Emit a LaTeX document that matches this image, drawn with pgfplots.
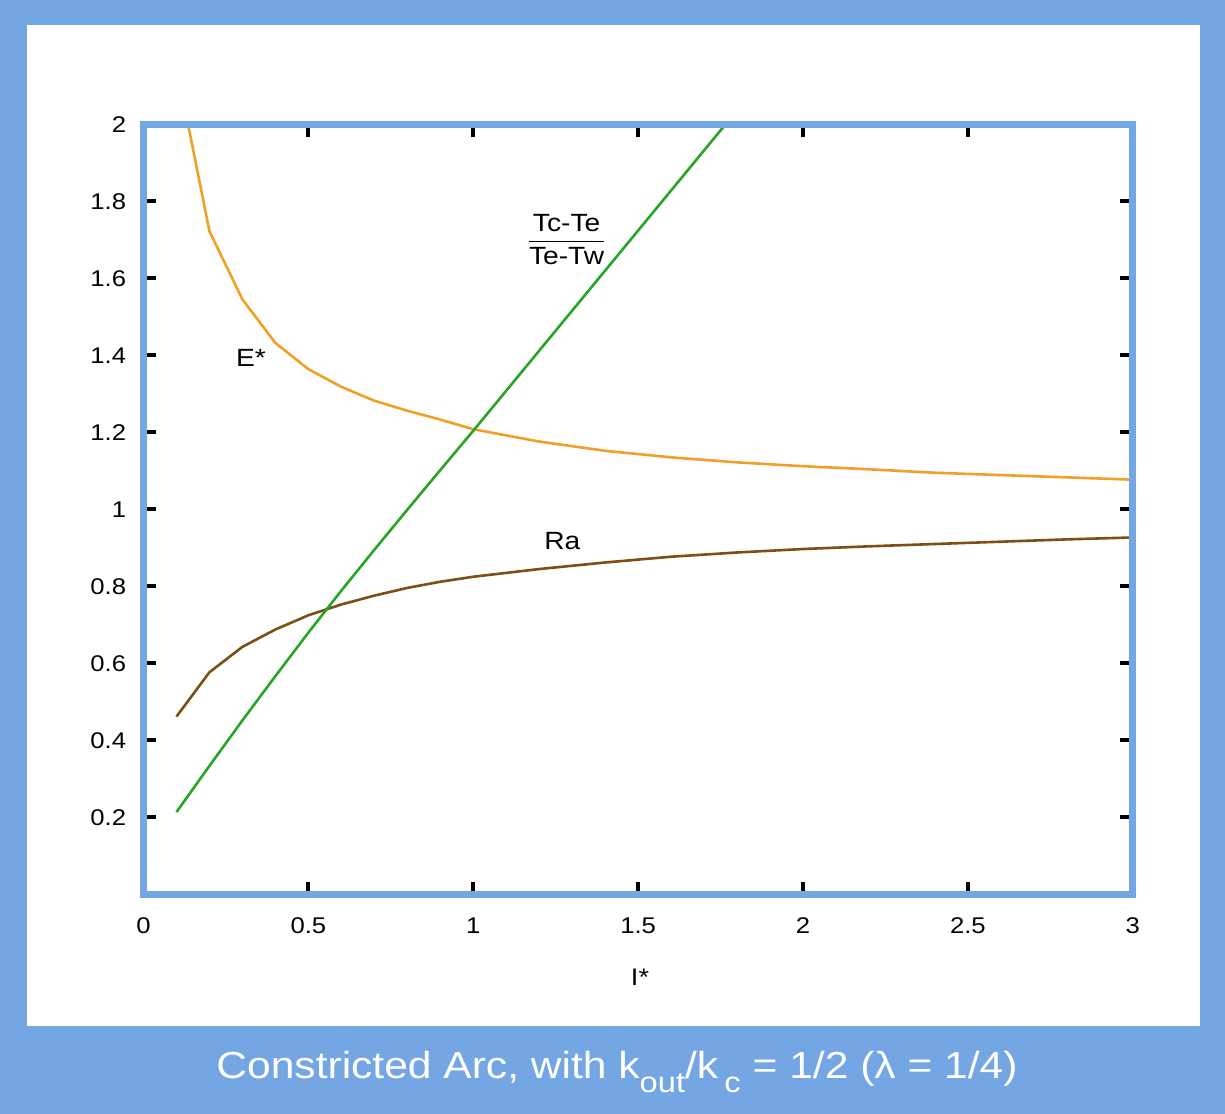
\documentclass[border=0pt]{standalone}
\usepackage{fontspec}
\setmainfont[FakeStretch=1.13]{Liberation Sans}
\usepackage{pgfplots}
\pgfplotsset{compat=1.18}
\definecolor{frameblue}{RGB}{116,166,228}
\definecolor{estar}{RGB}{240,160,40}
\definecolor{rabrown}{RGB}{125,78,22}
\definecolor{tgreen}{RGB}{40,165,40}
\begin{document}
\begin{tikzpicture}
\useasboundingbox (0,0) rectangle (612.5bp,557bp);
\fill[frameblue] (0,0) rectangle (612.5bp,557bp);
\fill[white] (13.5bp,44bp) rectangle (600bp,544.5bp);
\begin{axis}[
  at={(71.75bp,109.75bp)}, anchor=south west,
  scale only axis, width=494.65bp, height=385.15bp,
  xmin=0, xmax=3, ymin=0, ymax=2,
  xtick={0.5,1,1.5,2,2.5},
  ytick={0.2,0.4,0.6,0.8,1,1.2,1.4,1.6,1.8},
  extra x ticks={0,3},
  extra y ticks={2},
  extra tick style={major tick length=0pt},
  axis on top=true,
  axis line style={frameblue, line width=3.5bp},
  tick style={black, line width=2bp},
  major tick length=6.25bp,
  tick align=inside,
  /pgf/number format/assume math mode=true,
  ticklabel style={font=\fontsize{11.4}{12}\selectfont, black},
  xticklabel style={anchor=north, inner sep=0pt, yshift=-11.5bp},
  yticklabel style={anchor=east, inner sep=0pt, xshift=-8.5bp},
]
\addplot[estar, line width=1.3bp] coordinates {
(0.1,2.15) (0.2,1.722) (0.3,1.545) (0.4,1.432) (0.5,1.364) (0.6,1.318)
(0.7,1.282) (0.8,1.256) (0.9,1.233) (1.0,1.208) (1.2,1.176) (1.4,1.152)
(1.6,1.135) (1.8,1.122) (2.0,1.112) (2.2,1.104) (2.4,1.095) (2.6,1.089)
(2.8,1.083) (3.0,1.077)};
\addplot[rabrown, line width=1.3bp] coordinates {
(0.1,0.462) (0.2,0.577) (0.3,0.643) (0.4,0.688) (0.5,0.725) (0.6,0.753)
(0.7,0.776) (0.8,0.796) (0.9,0.812) (1.0,0.825) (1.2,0.845) (1.4,0.862)
(1.6,0.877) (1.8,0.888) (2.0,0.897) (2.2,0.904) (2.4,0.910) (2.6,0.916)
(2.8,0.922) (3.0,0.927)};
\addplot[tgreen, line width=1.3bp] coordinates {
(0.1,0.214) (0.2,0.334) (0.3,0.452) (0.4,0.567) (0.5,0.680) (0.6,0.789)
(0.7,0.895) (0.8,0.999) (0.9,1.102) (1.0,1.204) (1.2,1.412) (1.4,1.620)
(1.6,1.828) (1.8,2.036)};
\node[font=\fontsize{12.5}{14}\selectfont] at (axis cs:0.326,1.392) {E*};
\node[font=\fontsize{12.5}{14}\selectfont] at (axis cs:1.27,0.917) {Ra};
\node[font=\fontsize{12.5}{14}\selectfont] at (axis cs:1.283,1.701) {$\displaystyle\frac{\mbox{Tc-Te}}{\mbox{Te-Tw}}$};
\end{axis}
\node[font=\fontsize{12}{13}\selectfont] at (320bp,68.5bp) {I*};
\node[font=\fontsize{18.9}{22}\selectfont, text=white] at (308.5bp,21bp)
  {Constricted Arc, with k\raisebox{-0.35em}{\fontsize{14.5}{15}\selectfont out}/k\,\raisebox{-0.35em}{\fontsize{14.5}{15}\selectfont c} = 1/2 (λ = 1/4)};
\end{tikzpicture}
\end{document}
